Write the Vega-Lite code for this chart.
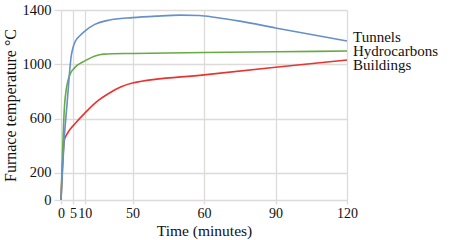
{
  "$schema": "https://vega.github.io/schema/vega-lite/v6.json",
  "width": 286,
  "height": 190,
  "padding": {"left": 61, "top": 10, "right": 109, "bottom": 40},
  "autosize": {"type": "none"},
  "background": "white",
  "config": {
    "view": {"stroke": null},
    "font": "Liberation Serif",
    "text": {"font": "Liberation Serif"},
    "axis": {"gridColor": "#dedada", "gridWidth": 1.3, "tickColor": "#dedada", "tickWidth": 1.3, "domain": false, "labelColor": "#111", "titleColor": "#111", "labelFont": "Liberation Serif", "titleFont": "Liberation Serif", "titleFontWeight": "normal"}
  },
  "data": {"values": [
    {"series": "Buildings", "t": 0, "T": 0},
    {"series": "Buildings", "t": 1.4, "T": 440},
    {"series": "Buildings", "t": 2.5, "T": 485},
    {"series": "Buildings", "t": 4, "T": 525},
    {"series": "Buildings", "t": 6, "T": 565},
    {"series": "Buildings", "t": 10, "T": 640},
    {"series": "Buildings", "t": 15, "T": 725},
    {"series": "Buildings", "t": 20, "T": 785},
    {"series": "Buildings", "t": 25, "T": 832},
    {"series": "Buildings", "t": 30, "T": 862},
    {"series": "Buildings", "t": 60, "T": 922},
    {"series": "Buildings", "t": 90, "T": 978},
    {"series": "Buildings", "t": 120, "T": 1032},
    {"series": "Hydrocarbons", "t": 0, "T": 0},
    {"series": "Hydrocarbons", "t": 1.5, "T": 700},
    {"series": "Hydrocarbons", "t": 2.2, "T": 815},
    {"series": "Hydrocarbons", "t": 3, "T": 885},
    {"series": "Hydrocarbons", "t": 4, "T": 935},
    {"series": "Hydrocarbons", "t": 5.5, "T": 970},
    {"series": "Hydrocarbons", "t": 7, "T": 995},
    {"series": "Hydrocarbons", "t": 10, "T": 1025},
    {"series": "Hydrocarbons", "t": 14, "T": 1060},
    {"series": "Hydrocarbons", "t": 18, "T": 1075},
    {"series": "Hydrocarbons", "t": 30, "T": 1080},
    {"series": "Hydrocarbons", "t": 60, "T": 1087},
    {"series": "Hydrocarbons", "t": 90, "T": 1092},
    {"series": "Hydrocarbons", "t": 120, "T": 1098},
    {"series": "Tunnels", "t": 0, "T": 0},
    {"series": "Tunnels", "t": 1.3, "T": 440},
    {"series": "Tunnels", "t": 2.6, "T": 720},
    {"series": "Tunnels", "t": 3.4, "T": 900},
    {"series": "Tunnels", "t": 4.2, "T": 1050},
    {"series": "Tunnels", "t": 5, "T": 1120},
    {"series": "Tunnels", "t": 6, "T": 1170},
    {"series": "Tunnels", "t": 8, "T": 1212},
    {"series": "Tunnels", "t": 10, "T": 1245},
    {"series": "Tunnels", "t": 14, "T": 1292},
    {"series": "Tunnels", "t": 20, "T": 1325},
    {"series": "Tunnels", "t": 30, "T": 1344},
    {"series": "Tunnels", "t": 40, "T": 1355},
    {"series": "Tunnels", "t": 50, "T": 1362},
    {"series": "Tunnels", "t": 58, "T": 1359},
    {"series": "Tunnels", "t": 65, "T": 1345},
    {"series": "Tunnels", "t": 75, "T": 1318},
    {"series": "Tunnels", "t": 90, "T": 1268},
    {"series": "Tunnels", "t": 120, "T": 1172}
  ]},
  "encoding": {
    "x": {"field": "t", "type": "quantitative", "scale": {"domain": [0, 120], "nice": false},
      "axis": {"values": [0, 5, 10, 30, 60, 90, 120], "labelExpr": "datum.value == 30 ? '50' : '' + datum.value", "title": "Time (minutes)", "labelFont": "Liberation Serif", "titleFont": "Liberation Serif", "labelFontSize": 14, "titleFontSize": 15.5, "tickSize": 4, "labelPadding": 2, "titlePadding": 3, "labelFlush": false, "labelOverlap": false}},
    "y": {"field": "T", "type": "quantitative", "scale": {"domain": [0, 1400], "nice": false},
      "axis": {"values": [0, 200, 600, 1000, 1400], "labelExpr": "'' + datum.value", "title": "Furnace temperature °C", "labelFont": "Liberation Serif", "titleFont": "Liberation Serif", "labelFontSize": 14.5, "titleFontSize": 16, "tickSize": 7, "labelPadding": 3, "titlePadding": 4, "labelFlush": false}}
  },
  "layer": [
    {
      "mark": {"type": "line", "interpolate": "monotone", "strokeWidth": 1.6},
      "encoding": {
        "color": {"field": "series", "type": "nominal", "legend": null,
          "scale": {"domain": ["Tunnels", "Hydrocarbons", "Buildings"], "range": ["#6590c8", "#66aa44", "#e8332e"]}}
      }
    },
    {
      "transform": [{"filter": "datum.t == 120"}],
      "mark": {"type": "text", "align": "left", "baseline": "middle", "dx": 6, "fontSize": 15, "font": "Liberation Serif", "color": "#111",
        "dy": {"expr": "datum.series == 'Tunnels' ? -4 : datum.series == 'Buildings' ? 5 : 0.5"}},
      "encoding": {"text": {"field": "series"}}
    }
  ]
}
